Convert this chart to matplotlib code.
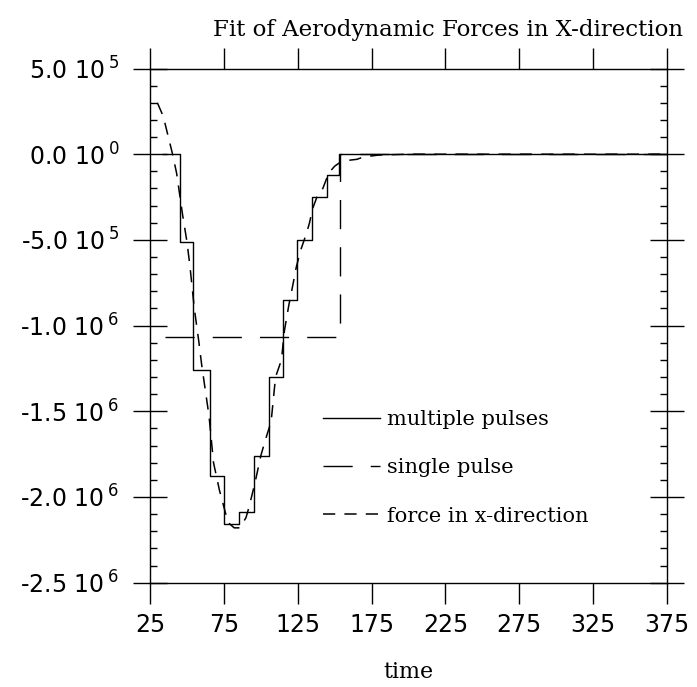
import matplotlib
matplotlib.use('Agg')
import matplotlib.pyplot as plt
from matplotlib.ticker import FixedLocator, MultipleLocator, FuncFormatter

# multiple pulses (step edges and levels)
pulse_t = [34, 45, 54, 65.5, 75, 85.5, 95.4, 105.6, 115.3, 124.3, 134.5, 144.6, 153.2, 375]
pulse_f = [0, -5.1e5, -12.6e5, -18.8e5, -21.6e5, -20.9e5, -17.6e5, -13.0e5, -8.5e5, -5.0e5, -2.5e5, -1.2e5, 0, 0]

# single pulse
single_t = [35, 153.6, 153.6, 375]
single_f = [-10.66e5, -10.66e5, 0, 0]

# force in x-direction
force_t = [30, 34, 38, 40, 43, 47, 50, 52, 55, 58, 60, 62, 65, 68, 72, 76, 78, 82, 86, 90, 92, 96,
           100, 103, 107, 110, 114, 116, 119, 122, 124, 127, 131, 133, 135, 138, 142, 146, 150,
           155, 160, 165, 170, 180, 200, 375]
force_f = [3.0e5, 2.2e5, 0.8e5, 0.1e5, -1.1e5, -3.5e5, -5.1e5, -6.5e5, -9.0e5, -10.9e5, -12.3e5,
           -13.5e5, -15.3e5, -18.0e5, -19.6e5, -20.9e5, -21.5e5, -21.8e5, -21.8e5, -21.2e5, -20.6e5,
           -19.2e5, -17.6e5, -16.7e5, -15.6e5, -13.0e5, -12.0e5, -10.3e5, -8.8e5, -7.5e5, -6.6e5,
           -5.6e5, -4.6e5, -4.0e5, -3.2e5, -2.5e5, -2.0e5, -1.1e5, -0.7e5, -0.4e5, -0.35e5, -0.3e5,
           -0.15e5, -0.05e5, 0, 0]

xticks = [25, 75, 125, 175, 225, 275, 325, 375]
yticks = [5e5, 0, -5e5, -1e6, -1.5e6, -2e6, -2.5e6]
ylabels = ['5.0 10$\\,^5$', '0.0 10$\\,^0$', '-5.0 10$\\,^5$', '-1.0 10$\\,^6$',
           '-1.5 10$\\,^6$', '-2.0 10$\\,^6$', '-2.5 10$\\,^6$']

fig = plt.figure(figsize=(6.97, 6.87), dpi=100)
ax = fig.add_axes([150/697, 1-582.7/687, 517/697, 514.2/687])

ax.step(pulse_t, pulse_f, where='post', color='black', lw=1.0, label='multiple pulses')
ax.plot(single_t, single_f, color='black', lw=1.0, dashes=(21, 13), label='single pulse')
ax.plot(force_t, force_f, color='black', lw=1.1, dashes=(8, 6), label='force in x-direction')

ax.set_xlim(25, 375)
ax.set_ylim(-2.5e6, 5e5)

ax.xaxis.set_major_locator(FixedLocator(xticks))
ax.yaxis.set_major_locator(FixedLocator(yticks))
ax.yaxis.set_minor_locator(MultipleLocator(1e5))
ax.yaxis.set_major_formatter(FuncFormatter(lambda v, p: ylabels[yticks.index(v)] if v in yticks else ''))

ax.tick_params(axis='x', which='major', direction='out', length=15, width=1, top=True, bottom=True,
               labelsize=17, pad=7)
ax.tick_params(axis='y', which='major', direction='inout', length=24, width=1, left=True, right=True,
               labelsize=17, pad=10)
ax.tick_params(axis='y', which='minor', direction='in', length=5, width=1, left=True, right=True)
for s in ax.spines.values():
    s.set_linewidth(1.0)

ax.set_xlabel('time', family='DejaVu Serif', fontsize=16, labelpad=17)
fig.text(448/697, 1-30/687, 'Fit of Aerodynamic Forces in X-direction', family='DejaVu Serif',
         fontsize=16.5, ha='center', va='center')

leg = ax.legend(loc='upper left', bbox_to_anchor=(0.298, 0.372), frameon=False, handlelength=2.75,
                handletextpad=0.35, labelspacing=1.4, prop={'family': 'DejaVu Serif', 'size': 15})

fig.savefig('out.png', dpi=100)
